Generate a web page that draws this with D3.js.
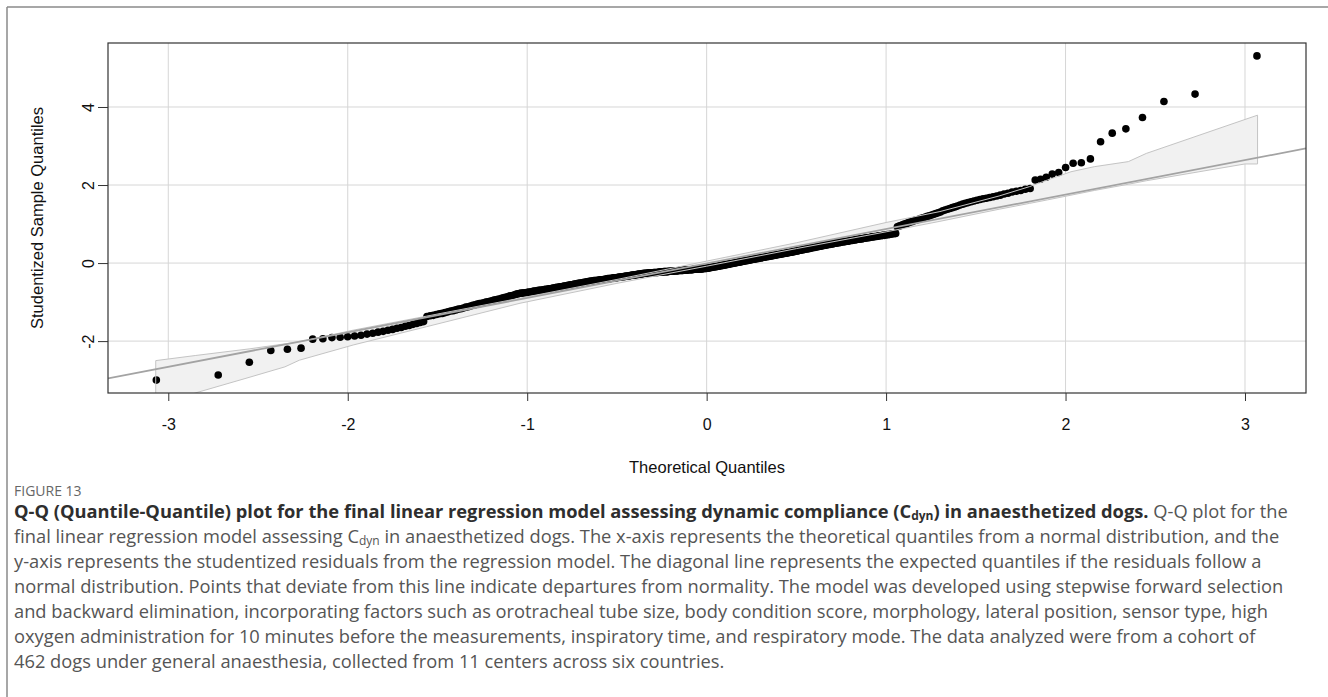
<!DOCTYPE html>
<html><head><meta charset="utf-8">
<script src="https://cdn.jsdelivr.net/npm/d3@7"></script>
<style>body{margin:0;background:#fff}svg{display:block}</style>
</head><body><svg id="chart" width="1328" height="697"></svg>
<script>
// ---------------- data ----------------
const xTicks = [-3, -2, -1, 0, 1, 2, 3];
const yTicks = [-2, 0, 2, 4];
const xTitle = "Theoretical Quantiles";
const yTitle = "Studentized Sample Quantiles";

// sorted studentized residuals (462 dogs)
const sampleQuantiles = [
-3.00,-2.87,-2.54,-2.24,-2.21,-2.18,-1.95,-1.94,-1.91,-1.90,-1.89,
-1.87,-1.85,-1.82,-1.80,-1.77,-1.75,-1.72,-1.70,-1.67,-1.65,-1.62,-1.60,-1.57,-1.55,-1.52,-1.50,
-1.37,-1.35,-1.34,-1.32,-1.30,-1.29,-1.27,-1.25,-1.23,-1.22,-1.20,-1.18,-1.17,-1.15,-1.13,-1.12,-1.10,-1.08,
-1.07,-1.05,-1.04,-1.03,-1.02,-1.00,-0.99,-0.98,-0.97,-0.95,-0.94,-0.93,-0.92,-0.90,-0.89,-0.88,-0.87,-0.85,-0.84,-0.83,-0.82,-0.80,-0.79,-0.78,
-0.77,-0.77,-0.76,-0.76,-0.75,-0.74,-0.74,-0.73,-0.72,-0.72,-0.71,-0.70,-0.70,-0.69,-0.69,-0.68,-0.67,-0.67,-0.66,-0.66,
-0.65,-0.64,-0.64,-0.63,-0.62,-0.62,-0.61,-0.61,-0.60,-0.59,-0.59,-0.58,-0.57,-0.57,-0.56,-0.56,-0.55,-0.54,-0.54,-0.53,
-0.52,-0.52,-0.51,-0.51,-0.50,-0.49,-0.49,-0.48,
-0.48,-0.47,-0.47,-0.46,-0.46,-0.45,-0.45,-0.45,-0.44,-0.44,-0.43,-0.43,-0.43,-0.42,-0.42,-0.41,-0.41,-0.40,-0.40,-0.40,
-0.39,-0.39,-0.38,-0.38,-0.38,-0.37,-0.37,-0.36,-0.36,-0.36,-0.35,-0.35,-0.34,-0.34,-0.33,-0.33,-0.33,-0.32,-0.32,-0.31,
-0.31,-0.31,-0.30,-0.30,-0.29,-0.29,-0.28,-0.28,-0.28,-0.27,-0.27,-0.26,-0.26,
-0.26,-0.26,-0.25,-0.25,-0.25,-0.25,-0.25,-0.24,-0.24,-0.24,-0.24,-0.24,-0.23,-0.23,-0.23,-0.23,-0.23,
-0.22,-0.22,-0.22,-0.22,-0.22,-0.21,-0.21,-0.21,-0.21,-0.21,-0.20,-0.20,-0.20,-0.20,-0.20,
-0.19,-0.19,-0.19,-0.19,-0.19,-0.18,-0.18,-0.18,-0.18,-0.18,-0.17,-0.17,-0.17,-0.17,-0.17,
-0.16,-0.16,-0.16,-0.16,-0.16,-0.15,-0.15,-0.15,-0.15,-0.15,-0.14,-0.14,-0.14,-0.14,
-0.13,-0.13,-0.12,-0.12,-0.11,-0.11,-0.10,-0.10,-0.09,-0.09,-0.09,
-0.08,-0.08,-0.07,-0.07,-0.06,-0.06,-0.05,-0.05,-0.04,-0.04,-0.03,-0.03,-0.02,-0.02,-0.01,-0.01,0.00,0.00,
0.01,0.01,0.02,0.02,0.03,0.03,0.04,0.04,0.05,0.05,0.06,0.06,0.07,0.07,0.08,0.08,0.09,0.09,0.10,0.10,
0.11,0.11,0.12,0.12,0.13,0.13,0.14,0.14,0.15,0.15,0.16,0.16,0.17,0.17,0.18,0.18,0.19,0.19,0.20,0.20,
0.21,0.21,0.22,0.22,0.23,0.23,0.24,0.24,0.25,0.25,
0.26,0.26,0.27,0.27,0.28,0.28,0.29,0.30,0.30,0.31,0.31,0.32,0.33,0.33,0.34,0.34,0.35,0.36,0.36,0.37,
0.37,0.38,0.39,0.39,0.40,0.40,0.41,0.42,0.42,0.43,0.43,0.44,0.45,0.45,0.46,0.46,0.47,0.48,0.48,0.49,
0.49,0.50,0.51,0.51,0.52,0.52,0.53,0.54,0.54,0.55,0.55,0.56,0.56,0.57,0.58,0.58,0.59,0.59,0.60,0.61,
0.61,0.62,0.62,0.63,0.64,0.64,0.65,0.65,0.66,0.67,0.67,0.68,0.68,0.69,0.70,0.70,0.71,0.71,0.72,
0.73,0.73,0.74,0.75,0.75,0.76,
0.93,0.95,0.96,0.98,1.00,1.01,1.03,1.05,1.06,1.08,1.10,1.11,1.13,1.15,1.16,1.18,1.20,1.21,1.23,
1.25,1.27,1.29,1.31,1.34,1.36,1.38,1.40,1.42,1.44,1.46,1.49,1.51,1.53,
1.55,1.57,1.59,1.61,1.63,1.65,1.66,1.68,1.70,1.72,1.74,
1.77,1.79,1.82,1.84,1.86,1.89,1.91,
2.13,2.15,2.20,2.28,2.32,2.45,2.56,2.57,2.67,3.11,3.33,3.44,3.73,4.14,4.33,5.31
];

// confidence envelope
const envT     = [-3.07,-2.85,-2.55,-2.35,-2.27,-1.97,-1.56,-1.04,-0.50, 0.00, 0.50, 1.00, 1.30, 1.63, 1.80, 1.90, 2.03, 2.16, 2.35, 2.45, 3.00, 3.07];
const envUpper = [-2.50,-2.37,-2.20,-2.07,-2.02,-1.72,-1.36,-0.90,-0.42, 0.05, 0.52, 1.04, 1.32, 1.72, 1.96, 2.13, 2.34, 2.47, 2.60, 2.81, 3.68, 3.79];
const envLower = [-3.65,-3.33,-2.93,-2.66,-2.49,-2.10,-1.63,-1.03,-0.52,-0.08, 0.37, 0.80, 1.07, 1.38, 1.53, 1.62, 1.74, 1.86, 2.02, 2.11, 2.54, 2.54];

// reference line (intercept, slope)
const refLine = [-0.01, 0.883];

const captionLabel = "FIGURE 13";
const captionLines = [
  [{t:"Q-Q (Quantile-Quantile) plot for the final linear regression model assessing dynamic compliance (C",b:1},{t:"dyn",b:1,s:1},{t:") in anaesthetized dogs.",b:1},{t:" Q-Q plot for the"}],
  [{t:"final linear regression model assessing C"},{t:"dyn",s:1},{t:" in anaesthetized dogs. The x-axis represents the theoretical quantiles from a normal distribution, and the"}],
  [{t:"y-axis represents the studentized residuals from the regression model. The diagonal line represents the expected quantiles if the residuals follow a"}],
  [{t:"normal distribution. Points that deviate from this line indicate departures from normality. The model was developed using stepwise forward selection"}],
  [{t:"and backward elimination, incorporating factors such as orotracheal tube size, body condition score, morphology, lateral position, sensor type, high"}],
  [{t:"oxygen administration for 10 minutes before the measurements, inspiratory time, and respiratory mode. The data analyzed were from a cohort of"}],
  [{t:"462 dogs under general anaesthesia, collected from 11 centers across six countries."}]
];

// -------------- helpers --------------
// standard normal quantile (Acklam) for R's ppoints plotting positions
function qnorm(p){
  const a=[-3.969683028665376e+01,2.209460984245205e+02,-2.759285104469687e+02,1.383577518672690e+02,-3.066479806614716e+01,2.506628277459239e+00];
  const b=[-5.447609879822406e+01,1.615858368580409e+02,-1.556989798598866e+02,6.680131188771972e+01,-1.328068155288572e+01];
  const c=[-7.784894002430293e-03,-3.223964580411365e-01,-2.400758277161838e+00,-2.549732539343734e+00,4.374664141464968e+00,2.938163982698783e+00];
  const d=[7.784695709041462e-03,3.224671290700398e-01,2.445134137142996e+00,3.754408661907416e+00];
  const pl=0.02425; let q,r;
  if(p<pl){q=Math.sqrt(-2*Math.log(p));return (((((c[0]*q+c[1])*q+c[2])*q+c[3])*q+c[4])*q+c[5])/((((d[0]*q+d[1])*q+d[2])*q+d[3])*q+1);}
  if(p<=1-pl){q=p-0.5;r=q*q;return (((((a[0]*r+a[1])*r+a[2])*r+a[3])*r+a[4])*r+a[5])*q/(((((b[0]*r+b[1])*r+b[2])*r+b[3])*r+b[4])*r+1);}
  q=Math.sqrt(-2*Math.log(1-p));return -(((((c[0]*q+c[1])*q+c[2])*q+c[3])*q+c[4])*q+c[5])/((((d[0]*q+d[1])*q+d[2])*q+d[3])*q+1);
}
const n = sampleQuantiles.length;
const points = sampleQuantiles.map((v,i)=>({t:qnorm((i+1-0.5)/n), v}));
const env = envT.map((t,i)=>({t, lo:envLower[i], hi:envUpper[i]}));

// -------------- drawing --------------
const svg = d3.select("#chart");
const L=108, R=1306, T=43, B=393;
const x = d3.scaleLinear().domain([-3.336, 3.34]).range([L, R]);
const y = d3.scaleLinear().domain([-3.33, 5.64]).range([B, T]);
const FONT = "'Liberation Sans', Arial, sans-serif";
const CAPFONT = "'Open Sans', 'Noto Sans', sans-serif";

// outer figure frame
svg.append("line").attr("x1",7).attr("y1",7).attr("x2",1328).attr("y2",7).attr("stroke","#8a8a8a").attr("stroke-width",1.5);
svg.append("line").attr("x1",7).attr("y1",7).attr("x2",7).attr("y2",697).attr("stroke","#8a8a8a").attr("stroke-width",1.5);

svg.append("clipPath").attr("id","plotclip").append("rect").attr("x",L).attr("y",T).attr("width",R-L).attr("height",B-T);

// grid
const grid = svg.append("g").attr("clip-path","url(#plotclip)");
grid.selectAll("line.gx").data(xTicks).join("line").attr("class","gx")
  .attr("x1",d=>x(d)).attr("x2",d=>x(d)).attr("y1",T).attr("y2",B).attr("stroke","#d6d6d6").attr("stroke-width",1);
grid.selectAll("line.gy").data(yTicks).join("line").attr("class","gy")
  .attr("y1",d=>y(d)).attr("y2",d=>y(d)).attr("x1",L).attr("x2",R).attr("stroke","#d6d6d6").attr("stroke-width",1);

const plot = svg.append("g").attr("clip-path","url(#plotclip)");
// envelope fill
const area = d3.area().x(d=>x(d.t)).y0(d=>y(d.lo)).y1(d=>y(d.hi));
plot.append("path").datum(env).attr("d",area).attr("fill","#f1f1f1").attr("stroke","none");

// points
plot.selectAll("circle").data(points).join("circle")
  .attr("cx",d=>x(d.t)).attr("cy",d=>y(d.v)).attr("r",3.8).attr("fill","#000");

// envelope outline
const outline = env.map(d=>[d.t,d.hi]).concat(env.slice().reverse().map(d=>[d.t,d.lo]));
plot.append("path").datum(outline)
  .attr("d", d3.line().x(d=>x(d[0])).y(d=>y(d[1])).curve(d3.curveLinearClosed))
  .attr("fill","none").attr("stroke","#c4c4c4").attr("stroke-width",1);

// reference line
const xd = x.domain();
plot.append("line")
  .attr("x1",x(xd[0])).attr("y1",y(refLine[0]+refLine[1]*xd[0]))
  .attr("x2",x(xd[1])).attr("y2",y(refLine[0]+refLine[1]*xd[1]))
  .attr("stroke","#a3a3a3").attr("stroke-width",1.8);

// plot box
svg.append("rect").attr("x",L).attr("y",T).attr("width",R-L).attr("height",B-T)
  .attr("fill","none").attr("stroke","#333").attr("stroke-width",1.2);

// axes
const xAxis = svg.append("g").attr("transform",`translate(0,${B})`)
  .call(d3.axisBottom(x).tickValues(xTicks).tickSize(8).tickPadding(18).tickFormat(d=>String(d)));
xAxis.select(".domain").remove();
xAxis.selectAll(".tick line").attr("stroke","#333");
xAxis.selectAll("text").attr("font-family",FONT).attr("font-size",16).attr("fill","#111");

const yAxis = svg.append("g").attr("transform",`translate(${L},0)`)
  .call(d3.axisLeft(y).tickValues(yTicks).tickSize(10).tickFormat(d=>String(d)));
yAxis.select(".domain").remove();
yAxis.selectAll(".tick line").attr("stroke","#333");
yAxis.selectAll("text").attr("x",0).attr("dy",0).attr("text-anchor","middle")
  .attr("transform","translate(-14,0) rotate(-90)")
  .attr("font-family",FONT).attr("font-size",16).attr("fill","#111");

// titles
svg.append("text").attr("x",(L+R)/2).attr("y",473).attr("text-anchor","middle")
  .attr("font-family",FONT).attr("font-size",16.5).attr("fill","#111").text(xTitle);
svg.append("text").attr("transform",`translate(43,${(T+B)/2}) rotate(-90)`).attr("text-anchor","middle")
  .attr("font-family",FONT).attr("font-size",16.5).attr("fill","#111").text(yTitle);

// caption
svg.append("text").attr("x",14).attr("y",496).attr("font-family",CAPFONT).attr("font-size",14)
  .attr("fill","#666").text(captionLabel);
captionLines.forEach((line,i)=>{
  const base = 518 + i*25;
  const txt = svg.append("text").attr("x",14).attr("y",base)
    .attr("font-family",CAPFONT).attr("font-size",18.3);
  line.forEach((seg,j)=>{
    const ts = txt.append("tspan").text(seg.t)
      .attr("font-weight", seg.b ? 700 : 400)
      .attr("fill", seg.b ? "#2e2e2e" : "#555");
    if (seg.s) ts.attr("font-size",12).attr("dy",1.8);
    else if (j>0 && line[j-1].s) ts.attr("dy",-1.8);
  });
});
</script></body></html>
